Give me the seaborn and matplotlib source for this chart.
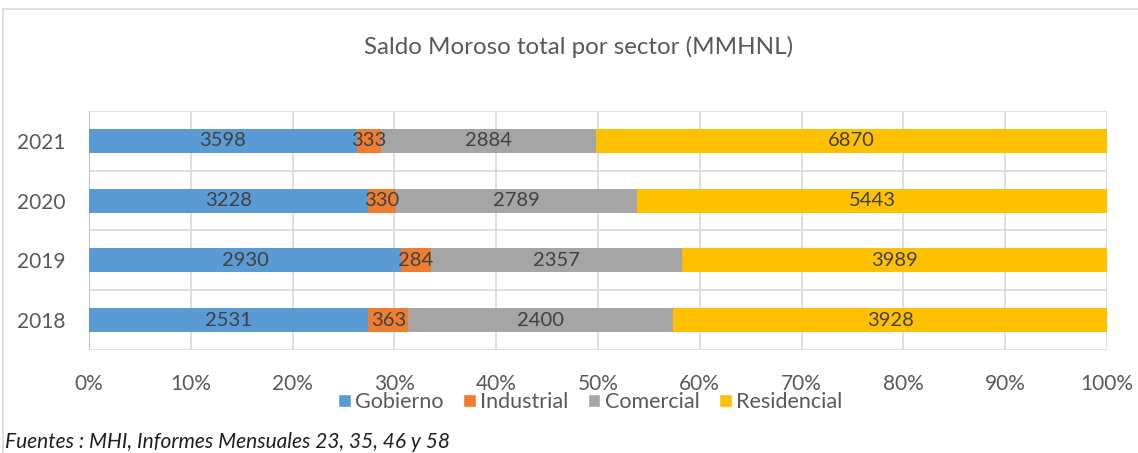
import pandas as pd
import numpy as np
import matplotlib.pyplot as plt
import seaborn as sns
from matplotlib.patches import Patch, Rectangle

years = ['2021', '2020', '2019', '2018']
sectors = ['Gobierno', 'Industrial', 'Comercial', 'Residencial']
gobierno = [3598, 3228, 2930, 2531]
industrial = [333, 330, 284, 363]
comercial = [2884, 2789, 2357, 2400]
residencial = [6870, 5443, 3989, 3928]
colors = ['#5B9BD5', '#ED7D31', '#A5A5A5', '#FFC000']

sns.set_style('white')
plt.rcParams['font.family'] = ['Lato', 'DejaVu Sans']

df = pd.DataFrame({'Año': years, 'Gobierno': gobierno, 'Industrial': industrial,
                   'Comercial': comercial, 'Residencial': residencial})
shares = df[sectors].div(df[sectors].sum(axis=1), axis=0)
cum = shares.cumsum(axis=1)

fig = plt.figure(figsize=(11.38, 4.53), dpi=100)
ax = fig.add_axes([89 / 1138, 1 - 350 / 453, (1107 - 89) / 1138, (350 - 111) / 453])

# stacked bars: draw cumulative totals from the last sector backwards
for sector, color in reversed(list(zip(sectors, colors))):
    plot_df = pd.DataFrame({'Año': df['Año'], 'v': cum[sector]})
    sns.barplot(data=plot_df, x='v', y='Año', order=years, color=color,
                width=0.4, orient='h', ax=ax, saturation=1, linewidth=0, zorder=3)

# data labels centred in each segment
for i, yr in enumerate(years):
    for sector in sectors:
        center = cum.loc[i, sector] - shares.loc[i, sector] / 2
        ax.text(center, i, str(df.loc[i, sector]), ha='center', va='center',
                fontsize=14.5, color='#404040', zorder=4)

ax.set_xlim(0, 1)
ax.set_ylim(3.5, -0.5)
ax.set_xticks(np.arange(0, 1.01, 0.1))
ax.set_xticklabels([f'{int(round(t * 100))}%' for t in np.arange(0, 1.01, 0.1)])
for t in np.arange(0, 1.01, 0.1):
    ax.axvline(t, color='#d9d9d9', lw=1.2, zorder=1)
for b in np.arange(-0.5, 4, 1):
    ax.axhline(b, color='#d9d9d9', lw=1.2, zorder=1)
for s in ax.spines.values():
    s.set_visible(False)
ax.axvline(0, color='#bfbfbf', lw=1.2, zorder=2)
ax.tick_params(axis='x', length=0, pad=17, labelsize=15, labelcolor='#595959')
ax.tick_params(axis='y', length=0, pad=17, labelsize=15, labelcolor='#595959')
ax.set_xlabel('')
ax.set_ylabel('')

fig.text(579 / 1138, 1 - 47 / 453, 'Saldo Moroso total por sector (MMHNL)', ha='center', va='center',
         fontsize=17.4, color='#595959')

handles = [Patch(facecolor=c, label=s) for s, c in zip(sectors, colors)]
fig.legend(handles=handles, loc='center', bbox_to_anchor=(590 / 1138, 1 - 402 / 453), ncol=4,
           frameon=False, fontsize=15.5, handlelength=0.6, handleheight=0.6,
           handletextpad=0.2, columnspacing=0.9, labelcolor='#595959')

fig.text(5 / 1138, 1 - 442 / 453, 'Fuentes : MHI, Informes Mensuales 23, 35, 46 y 58',
         ha='left', va='center', fontsize=15, style='italic', color='#202020')

fig.patches.append(Rectangle((3 / 1138, -0.1), 1.1, 1 - 9 / 453 + 0.1, transform=fig.transFigure,
                             fill=False, edgecolor='#d9d9d9', lw=1.2))

fig.savefig('out.png', dpi=100)
